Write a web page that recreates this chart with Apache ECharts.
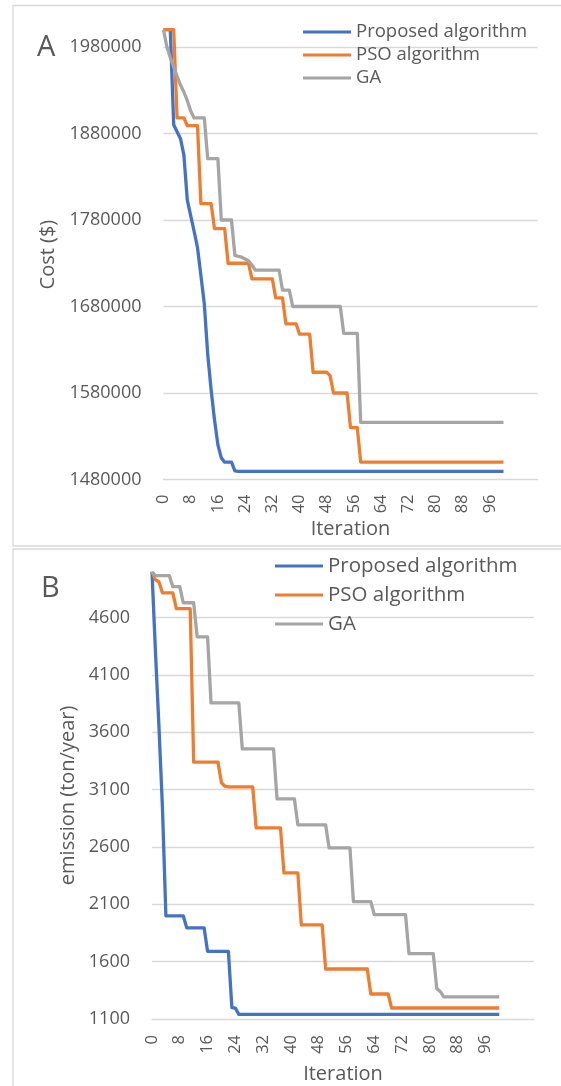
<!DOCTYPE html>
<html>
<head>
<meta charset="utf-8">
<script src="https://cdn.jsdelivr.net/npm/echarts@6/dist/echarts.min.js"></script>
<style>
  html, body { margin: 0; padding: 0; background: #fff; }
  #chart { width: 561px; height: 1086px; }
</style>
</head>
<body>
<div id="chart"></div>
<script>
const seriesNames = ['Proposed algorithm', 'PSO algorithm', 'GA'];
const colors = ['#4472C4', '#ED7D31', '#A5A5A5'];

const iterations = [
  0, 1, 2, 3, 4, 5, 6, 7, 8, 9,
  10, 11, 12, 13, 14, 15, 16, 17, 18, 19,
  20, 21, 22, 23, 24, 25, 26, 27, 28, 29,
  30, 31, 32, 33, 34, 35, 36, 37, 38, 39,
  40, 41, 42, 43, 44, 45, 46, 47, 48, 49,
  50, 51, 52, 53, 54, 55, 56, 57, 58, 59,
  60, 61, 62, 63, 64, 65, 66, 67, 68, 69,
  70, 71, 72, 73, 74, 75, 76, 77, 78, 79,
  80, 81, 82, 83, 84, 85, 86, 87, 88, 89,
  90, 91, 92, 93, 94, 95, 96, 97, 98, 99,
  100
];
const iterTicks = [0, 8, 16, 24, 32, 40, 48, 56, 64, 72, 80, 88, 96];
const costTicks = [1480000, 1580000, 1680000, 1780000, 1880000, 1980000];
const emisTicks = [1100, 1600, 2100, 2600, 3100, 3600, 4100, 4600];

// chart A: cost ($)
const costProposed = [
  2000000, 2000000, 2000000, 1890000, 1882000, 1874000, 1855000, 1803000, 1785000, 1767000,
  1748000, 1716000, 1683000, 1625000, 1584000, 1549000, 1520000, 1505000, 1500000, 1500000,
  1500000, 1490000, 1489500, 1489500, 1489500, 1489500, 1489500, 1489500, 1489500, 1489500,
  1489500, 1489500, 1489500, 1489500, 1489500, 1489500, 1489500, 1489500, 1489500, 1489500,
  1489500, 1489500, 1489500, 1489500, 1489500, 1489500, 1489500, 1489500, 1489500, 1489500,
  1489500, 1489500, 1489500, 1489500, 1489500, 1489500, 1489500, 1489500, 1489500, 1489500,
  1489500, 1489500, 1489500, 1489500, 1489500, 1489500, 1489500, 1489500, 1489500, 1489500,
  1489500, 1489500, 1489500, 1489500, 1489500, 1489500, 1489500, 1489500, 1489500, 1489500,
  1489500, 1489500, 1489500, 1489500, 1489500, 1489500, 1489500, 1489500, 1489500, 1489500,
  1489500, 1489500, 1489500, 1489500, 1489500, 1489500, 1489500, 1489500, 1489500, 1489500,
  1489500
];
const costPSO = [
  2000000, 2000000, 2000000, 2000000, 1898000, 1898000, 1898000, 1889000, 1889000, 1889000,
  1889000, 1799000, 1799000, 1799000, 1799000, 1770000, 1770000, 1770000, 1770000, 1730000,
  1730000, 1730000, 1730000, 1730000, 1730000, 1730000, 1712000, 1712000, 1712000, 1712000,
  1712000, 1712000, 1712000, 1690000, 1690000, 1690000, 1660000, 1660000, 1660000, 1660000,
  1648000, 1648000, 1648000, 1648000, 1604000, 1604000, 1604000, 1604000, 1604000, 1600000,
  1580000, 1580000, 1580000, 1580000, 1580000, 1540000, 1540000, 1540000, 1500000, 1500000,
  1500000, 1500000, 1500000, 1500000, 1500000, 1500000, 1500000, 1500000, 1500000, 1500000,
  1500000, 1500000, 1500000, 1500000, 1500000, 1500000, 1500000, 1500000, 1500000, 1500000,
  1500000, 1500000, 1500000, 1500000, 1500000, 1500000, 1500000, 1500000, 1500000, 1500000,
  1500000, 1500000, 1500000, 1500000, 1500000, 1500000, 1500000, 1500000, 1500000, 1500000,
  1500000
];
const costGA = [
  2000000, 1980000, 1968000, 1957000, 1946000, 1936000, 1928000, 1918000, 1906000, 1898000,
  1898000, 1898000, 1898000, 1851000, 1851000, 1851000, 1851000, 1780000, 1780000, 1780000,
  1780000, 1739000, 1738000, 1737000, 1735000, 1733000, 1728000, 1722000, 1722000, 1722000,
  1722000, 1722000, 1722000, 1722000, 1722000, 1699000, 1699000, 1699000, 1680000, 1680000,
  1680000, 1680000, 1680000, 1680000, 1680000, 1680000, 1680000, 1680000, 1680000, 1680000,
  1680000, 1680000, 1680000, 1649000, 1649000, 1649000, 1649000, 1649000, 1546000, 1546000,
  1546000, 1546000, 1546000, 1546000, 1546000, 1546000, 1546000, 1546000, 1546000, 1546000,
  1546000, 1546000, 1546000, 1546000, 1546000, 1546000, 1546000, 1546000, 1546000, 1546000,
  1546000, 1546000, 1546000, 1546000, 1546000, 1546000, 1546000, 1546000, 1546000, 1546000,
  1546000, 1546000, 1546000, 1546000, 1546000, 1546000, 1546000, 1546000, 1546000, 1546000,
  1546000
];

// chart B: emission (ton/year)
const emisProposed = [
  5000, 4300, 3650, 2950, 2000, 2000, 2000, 2000, 2000, 2000,
  1895, 1895, 1895, 1895, 1895, 1895, 1690, 1690, 1690, 1690,
  1690, 1690, 1690, 1200, 1195, 1140, 1140, 1140, 1140, 1140,
  1140, 1140, 1140, 1140, 1140, 1140, 1140, 1140, 1140, 1140,
  1140, 1140, 1140, 1140, 1140, 1140, 1140, 1140, 1140, 1140,
  1140, 1140, 1140, 1140, 1140, 1140, 1140, 1140, 1140, 1140,
  1140, 1140, 1140, 1140, 1140, 1140, 1140, 1140, 1140, 1140,
  1140, 1140, 1140, 1140, 1140, 1140, 1140, 1140, 1140, 1140,
  1140, 1140, 1140, 1140, 1140, 1140, 1140, 1140, 1140, 1140,
  1140, 1140, 1140, 1140, 1140, 1140, 1140, 1140, 1140, 1140,
  1140
];
const emisPSO = [
  5000, 4930, 4913, 4817, 4817, 4817, 4817, 4678, 4678, 4678,
  4678, 4678, 3340, 3340, 3340, 3340, 3340, 3340, 3340, 3340,
  3160, 3130, 3124, 3124, 3124, 3124, 3124, 3124, 3124, 3124,
  2767, 2767, 2767, 2767, 2767, 2767, 2767, 2767, 2374, 2374,
  2374, 2374, 2374, 1920, 1920, 1920, 1920, 1920, 1920, 1920,
  1536, 1536, 1536, 1536, 1536, 1536, 1536, 1536, 1536, 1536,
  1536, 1536, 1536, 1318, 1318, 1318, 1318, 1318, 1318, 1196,
  1196, 1196, 1196, 1196, 1196, 1196, 1196, 1196, 1196, 1196,
  1196, 1196, 1196, 1196, 1196, 1196, 1196, 1196, 1196, 1196,
  1196, 1196, 1196, 1196, 1196, 1196, 1196, 1196, 1196, 1196,
  1196
];
const emisGA = [
  5000, 4966, 4966, 4966, 4966, 4966, 4870, 4870, 4870, 4730,
  4730, 4730, 4730, 4433, 4433, 4433, 4433, 3857, 3857, 3857,
  3857, 3857, 3857, 3857, 3857, 3857, 3456, 3456, 3456, 3456,
  3456, 3456, 3456, 3456, 3456, 3456, 3020, 3020, 3020, 3020,
  3020, 3020, 2793, 2793, 2793, 2793, 2793, 2793, 2793, 2793,
  2793, 2592, 2592, 2592, 2592, 2592, 2592, 2592, 2124, 2124,
  2124, 2124, 2124, 2124, 2010, 2010, 2010, 2010, 2010, 2010,
  2010, 2010, 2010, 2010, 1670, 1670, 1670, 1670, 1670, 1670,
  1670, 1670, 1365, 1340, 1293, 1293, 1293, 1293, 1293, 1293,
  1293, 1293, 1293, 1293, 1293, 1293, 1293, 1293, 1293, 1293,
  1293
];

const textColor = '#595959';
const gridColor = '#D9D9D9';
const font = 'Open Sans';

function pairs(values) {
  return iterations.map((it, i) => [it, values[i]]);
}

function xAxisFor(gridIndex, margin, gap) {
  return {
    type: 'value', gridIndex: gridIndex,
    min: 0, max: 110, interval: 8,
    name: 'Iteration', nameLocation: 'middle', nameGap: gap,
    nameTextStyle: { color: textColor, fontSize: 20, fontFamily: font },
    axisLine: { show: true, lineStyle: { color: gridColor, width: 1.3 } },
    axisTick: { show: false },
    splitLine: { show: false },
    axisLabel: {
      rotate: 90, margin: margin, color: textColor, fontSize: 16.5, fontFamily: font,
      showMaxLabel: false,
      formatter: v => iterTicks.indexOf(v) >= 0 ? String(v) : ''
    }
  };
}

function yAxisFor(gridIndex, name, min, max, interval, ticks, gap) {
  return {
    type: 'value', gridIndex: gridIndex,
    min: min, max: max, interval: interval,
    name: name, nameLocation: 'middle', nameGap: gap,
    nameTextStyle: { color: textColor, fontSize: 20, fontFamily: font },
    axisLine: { show: false },
    axisTick: { show: false },
    splitLine: { show: true, showMinLine: false, showMaxLine: false, lineStyle: { color: gridColor, width: 1.3 } },
    axisLabel: {
      margin: 22, color: textColor, fontSize: 18, fontFamily: font,
      showMaxLabel: false,
      formatter: v => ticks.indexOf(v) >= 0 ? String(v) : ''
    }
  };
}

function lineSeries(k, axisIndex, values) {
  return {
    name: seriesNames[k], type: 'line',
    xAxisIndex: axisIndex, yAxisIndex: axisIndex,
    data: pairs(values),
    showSymbol: false, symbol: 'none',
    lineStyle: { color: colors[k], width: 3.3, join: 'round' },
    itemStyle: { color: colors[k] },
    animation: false
  };
}

const chart = echarts.init(document.getElementById('chart'), null, { renderer: 'canvas' });
chart.setOption({
  animation: false,
  color: colors,
  grid: [
    { left: 163.5, top: 29.7, width: 374, height: 449.8 },
    { left: 152, top: 571.8, width: 382, height: 447.2 }
  ],
  xAxis: [xAxisFor(0, 15, 40), xAxisFor(1, 16, 45)],
  yAxis: [
    yAxisFor(0, 'Cost ($)', 1480000, 2000000, 100000, costTicks, 100),
    yAxisFor(1, 'emission (ton/year)', 1100, 5000, 500, emisTicks, 68)
  ],
  legend: [
    {
      orient: 'vertical', left: 303, top: 22, padding: 0,
      icon: 'rect', itemWidth: 48, itemHeight: 3, itemGap: 3,
      data: seriesNames,
      textStyle: { color: textColor, fontSize: 18.5, fontFamily: font, lineHeight: 20 }
    },
    {
      orient: 'vertical', left: 275, top: 555, padding: 0,
      icon: 'rect', itemWidth: 48, itemHeight: 3, itemGap: 7,
      data: seriesNames,
      textStyle: { color: textColor, fontSize: 20.5, fontFamily: font, lineHeight: 22 }
    }
  ],
  graphic: [
    { type: 'rect', shape: { x: 13, y: 5.5, width: 560, height: 540.5 }, style: { fill: 'none', stroke: gridColor, lineWidth: 1.3 }, silent: true, z: -1 },
    { type: 'rect', shape: { x: 13, y: 549, width: 560, height: 545 }, style: { fill: 'none', stroke: gridColor, lineWidth: 1.3 }, silent: true, z: -1 },
    { type: 'text', left: 37, top: 33, style: { text: 'A', fill: textColor, fontSize: 29, fontFamily: font } },
    { type: 'text', left: 41, top: 574, style: { text: 'B', fill: textColor, fontSize: 29, fontFamily: font } }
  ],
  series: [
    lineSeries(0, 0, costProposed),
    lineSeries(1, 0, costPSO),
    lineSeries(2, 0, costGA),
    lineSeries(0, 1, emisProposed),
    lineSeries(1, 1, emisPSO),
    lineSeries(2, 1, emisGA)
  ]
});
</script>
</body>
</html>
